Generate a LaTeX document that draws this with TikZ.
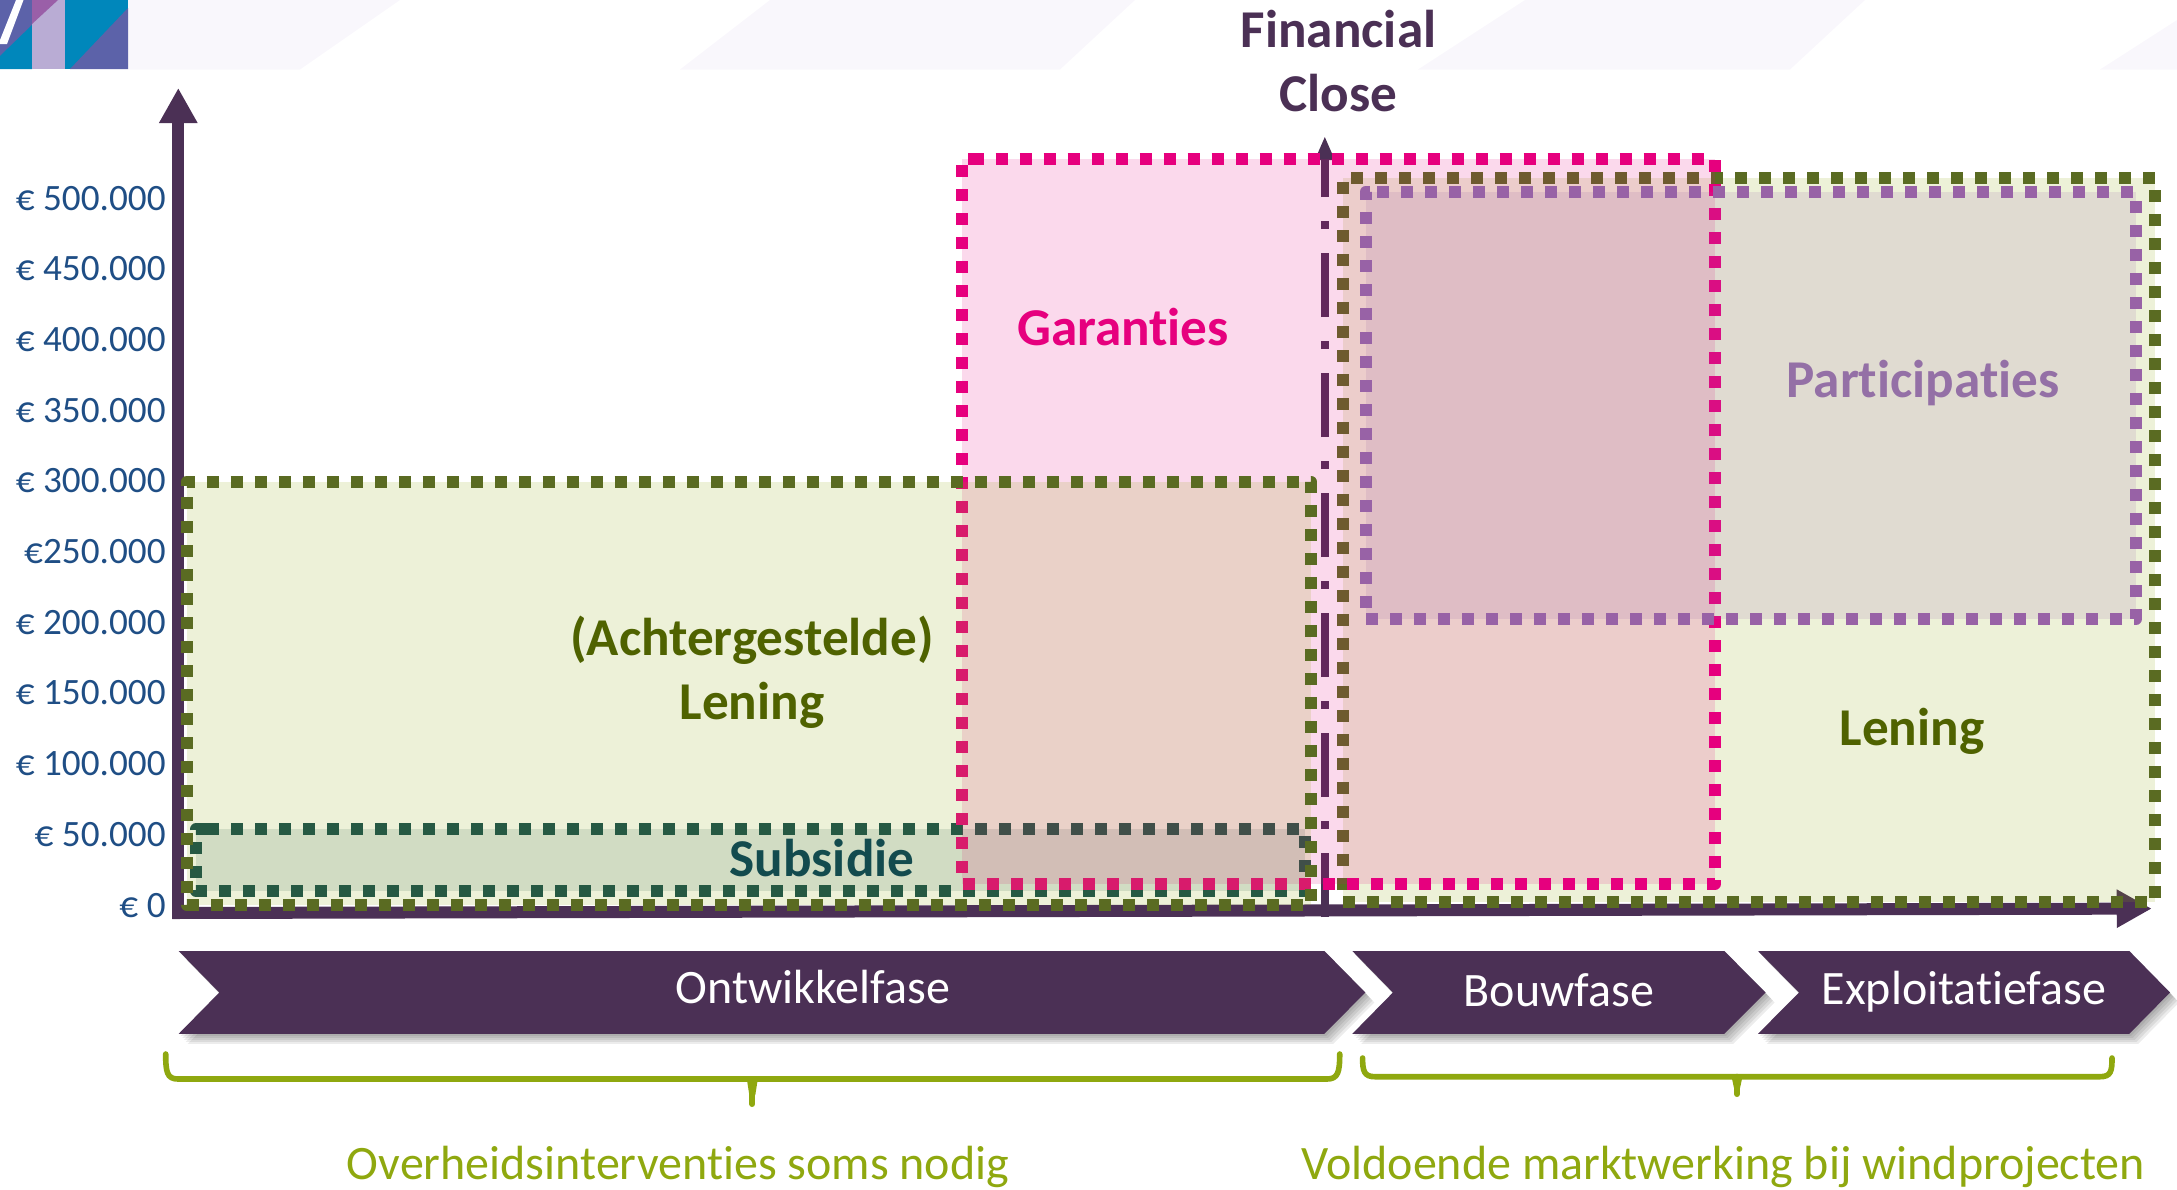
\documentclass[tikz,border=0pt]{standalone}
\usepackage{fontspec}
\setmainfont{Carlito}[Ligatures={TeX,NoCommon}]
\usetikzlibrary{arrows.meta}
\definecolor{plum}{HTML}{4B3055}
\definecolor{pinkc}{HTML}{E6007E}
\definecolor{olive}{HTML}{5A6B22}
\definecolor{leaf}{HTML}{8FA80F}
\definecolor{oliveText}{HTML}{4F6200}
\definecolor{teal}{HTML}{134B4E}
\definecolor{lilac}{HTML}{9862A6}
\definecolor{lilacText}{HTML}{9470A6}
\definecolor{axisBlue}{HTML}{1F4E85}
\definecolor{band}{HTML}{F9F7FC}
\definecolor{logoBlue}{HTML}{0087BB}
\definecolor{logoPurple}{HTML}{5C62A9}
\definecolor{logoLilac}{HTML}{B9ACD4}
\definecolor{logoMag}{HTML}{9A5FA8}
\tikzset{
  x=0.5pt,y=-0.5pt,
  dotbox/.style={line width=6pt,dash pattern=on 6pt off 6pt,line join=round},
  axisline/.style={draw=plum,line width=6pt},
  ticklabel/.style={anchor=base east,inner sep=0pt,text=axisBlue,font=\fontsize{18.6}{20}\selectfont},
  boldlabel/.style={anchor=base,inner sep=0pt,font=\fontsize{26.6}{30}\selectfont\bfseries},
  phaselabel/.style={anchor=base,inner sep=0pt,text=white,font=\fontsize{24}{26}\selectfont},
  notelabel/.style={anchor=base,inner sep=0pt,text=leaf,font=\fontsize{24}{26}\selectfont},
  bracket/.style={draw=leaf,line width=2.8pt,line cap=round},
  spike/.style={draw=leaf,line width=3pt,line cap=round},
}
\newcommand{\chevron}[4]{%
  \foreach \d in {2,4,6,8,10}{
    \fill[black,opacity=.075,shift={(\d*0.9,\d)}] (#1,951)--(#3,951)--(#4,992.5)--(#3,1033.8)--(#1,1033.8)--(#2,992.5)--cycle;
  }
  \fill[plum] (#1,951)--(#3,951)--(#4,992.5)--(#3,1033.8)--(#1,1033.8)--(#2,992.5)--cycle;
}
\begin{document}
\begin{tikzpicture}
\useasboundingbox (0,0) rectangle (2177,1189);
% header band
\fill[band] (128,0) -- (400,0) -- (300,69.5) -- (128,69.5) -- cycle;
\fill[band] (680,69.5) -- (770,0) -- (1135,0) -- (1060,69.5) -- cycle;
\fill[band] (1418,69.5) -- (1525,0) -- (1865,0) -- (1790,69.5) -- cycle;
\fill[band] (2100,69.5) -- (2177,20) -- (2177,69.5) -- cycle;
% logo
\fill[logoPurple] (0,0) rectangle (32,69);
\fill[logoBlue] (0,56) -- (32,25) -- (32,69) -- (0,69) -- cycle;
\fill[white] (16,0) -- (23.5,0) -- (7,44) -- (0,44) -- (0,40) -- cycle;
\fill[logoLilac] (32,0) rectangle (65,69);
\fill[logoMag] (32,0) -- (58,0) -- (32,24) -- cycle;
\fill[logoBlue] (65,0) rectangle (128,69);
\fill[logoPurple] (70,69) -- (128,8) -- (128,69) -- cycle;
% axes
\coordinate (axO) at (178.3,919);
\coordinate (axY) at (178.3,88);
\coordinate (axH) at (172.3,913);
\coordinate (axX) at (2151.7,908.6);
\draw[axisline,-{Triangle[length=17.5pt,width=18pt]}] (axO) -- (axY);
\draw[axisline,-{Triangle[length=17.5pt,width=18pt]}] (axH) -- (axX);
% financial close marker
\coordinate (fcA) at (1324.8,917);
\coordinate (fcB) at (1324.8,136);
\draw[draw=plum,line width=4pt,dash pattern=on 32pt off 12pt on 4pt off 12pt,-{Triangle[length=12pt,width=9pt]}] (fcA) -- (fcB);
% right loan
\fill[leaf,opacity=.16] (1343,178) rectangle (2155,902);
\draw[dotbox,olive] (1351,178) -- (2155,178) -- (2155,902) -- (1343,902) -- (1343,178) -- (1351,178);
% subsidy
\fill[teal,opacity=.14] (196,829.3) rectangle (1304.5,891);
\draw[dotbox,teal] (207.3,829.3) -- (1304.5,829.3) -- (1304.5,891) -- (196,891) -- (196,829.3) -- (207.3,829.3);
% guarantees
\fill[pinkc,opacity=.15] (962,159) rectangle (1714.7,884);
\draw[dotbox,pinkc] (971.7,159) -- (1714.7,159) -- (1714.7,884) -- (962,884) -- (962,159) -- (971.7,159);
% left loan
\fill[leaf,opacity=.16] (186.7,481.7) rectangle (1311,905);
\draw[dotbox,olive] (186.7,485.7) -- (186.7,481.7) -- (1311,481.7) -- (1311,905) -- (186.7,905) -- (186.7,485.7);
% participations
\fill[lilac,opacity=.15] (1365.5,192) rectangle (2136,619);
\draw[dotbox,lilac] (1377,192) -- (2136,192) -- (2136,619) -- (1365.5,619) -- (1365.5,192) -- (1377,192);
% axis labels
\node[ticklabel] (t500) at (166,210) {€ 500.000};
\node[ticklabel] (t450) at (166,280.7) {€ 450.000};
\node[ticklabel] (t400) at (166,351.4) {€ 400.000};
\node[ticklabel] (t350) at (166,422.1) {€ 350.000};
\node[ticklabel] (t300) at (166,492.8) {€ 300.000};
\node[ticklabel] (t250) at (166,563.5) {€250.000};
\node[ticklabel] (t200) at (166,634.2) {€ 200.000};
\node[ticklabel] (t150) at (166,704.9) {€ 150.000};
\node[ticklabel] (t100) at (166,775.6) {€ 100.000};
\node[ticklabel] (t50) at (166,846.3) {€ 50.000};
\node[ticklabel] (t0) at (166,917) {€ 0};
% labels
\node[boldlabel,text=plum] (fc1) at (1338.5,47.5) {Financial};
\node[boldlabel,text=plum] (fc2) at (1338.5,111.5) {Close};
\node[boldlabel,text=pinkc] (gar) at (1123,345) {Garanties};
\node[boldlabel,text=lilacText] (par) at (1923,397) {Participaties};
\node[boldlabel,text=oliveText] (ach) at (752,655) {(Achtergestelde)};
\node[boldlabel,text=oliveText] (len1) at (752,719) {Lening};
\node[boldlabel,text=teal] (sub) at (822,876) {Subsidie};
\node[boldlabel,text=oliveText] (len2) at (1912,745) {Lening};
% phases
\chevron{178.7}{219.3}{1324.4}{1365.3}
\chevron{1352.3}{1392.9}{1724.3}{1765.6}
\chevron{1758}{1799}{2129.3}{2170}
\node[phaselabel] (ont) at (813,1003) {Ontwikkelfase};
\node[phaselabel] (bou) at (1558.8,1006) {Bouwfase};
\node[phaselabel] (exp) at (1964,1004.5) {Exploitatiefase};
% brackets
\coordinate (b1a) at (165.7,1054);
\coordinate (b1b) at (1339.7,1054);
\coordinate (b1c) at (752.3,1104);
\draw[bracket] (b1a) .. controls (165.7,1072) and (167,1079) .. (178,1079) -- (1327,1079) .. controls (1338,1079) and (1339.7,1072) .. (b1b);
\draw[spike] (752.3,1079) -- (b1c);
\fill[leaf] (746.8,1079) -- (757.8,1079) -- (755.3,1095) -- (749.3,1095) -- cycle;
\coordinate (b2a) at (1362.6,1058);
\coordinate (b2b) at (2112,1058);
\coordinate (b2c) at (1737,1094);
\draw[bracket] (b2a) .. controls (1362.6,1071) and (1364,1076.7) .. (1375,1076.7) -- (2100,1076.7) .. controls (2111,1076.7) and (2112,1071) .. (b2b);
\draw[spike] (1737,1076.7) -- (b2c);
\fill[leaf] (1731.5,1076.7) -- (1742.5,1076.7) -- (1740,1088) -- (1734,1088) -- cycle;
% notes
\node[notelabel] (n1) at (678,1179) {Overheidsinterventies soms nodig};
\node[notelabel] (n2) at (1723,1179) {Voldoende marktwerking bij windprojecten};
\end{tikzpicture}
\end{document}
